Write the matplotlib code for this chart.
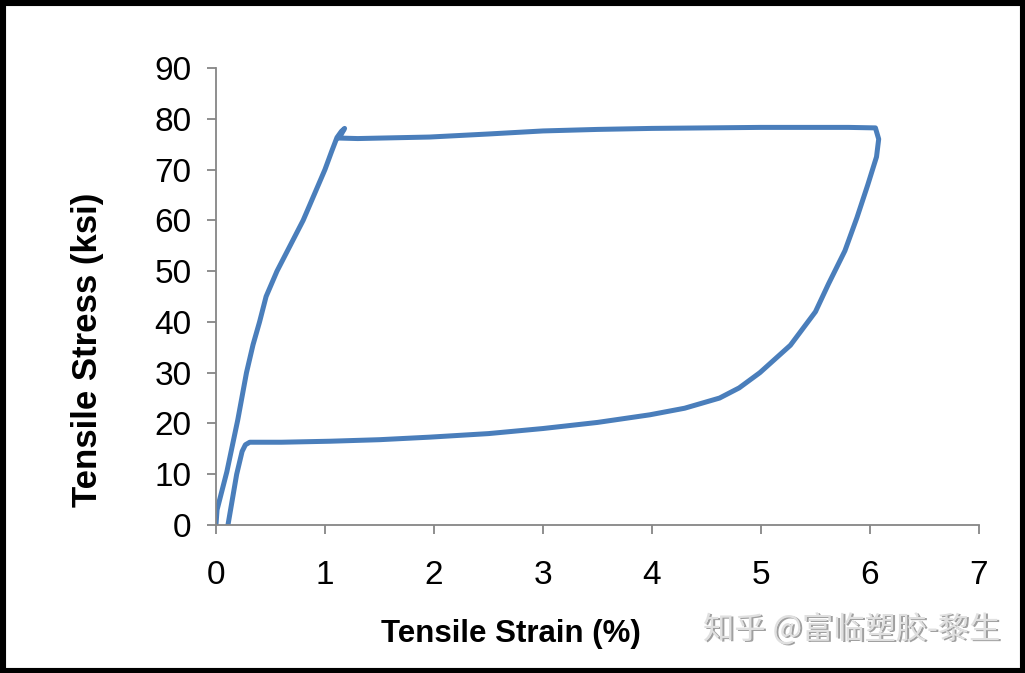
import matplotlib
matplotlib.use("Agg")
import matplotlib.pyplot as plt
from matplotlib.patches import Rectangle

# Loading branch (strain %, stress ksi)
load_strain = [0.0, 0.01, 0.10, 0.20, 0.28, 0.34, 0.40, 0.46, 0.56, 0.68, 0.80, 0.90, 1.00, 1.06, 1.11, 1.15, 1.18]
load_stress = [0.0, 3.0, 10.5, 20.7, 30.0, 35.5, 40.0, 45.0, 50.0, 55.0, 60.0, 65.0, 70.0, 73.5, 76.3, 77.5, 78.1]

# Plateau (upper)
upper_strain = [1.18, 1.13, 1.3, 1.96, 2.5, 3.0, 3.5, 4.0, 5.0, 5.8, 6.05]
upper_stress = [78.1, 76.2, 76.1, 76.4, 77.0, 77.6, 77.9, 78.1, 78.3, 78.3, 78.2]

# Unloading branch
unload_strain = [6.05, 6.08, 6.06, 5.98, 5.88, 5.77, 5.62, 5.50, 5.27, 4.99, 4.80, 4.62, 4.30, 3.98, 3.5, 3.0, 2.5, 1.96, 1.5, 1.05, 0.6, 0.31, 0.27, 0.24, 0.19, 0.15, 0.11]
unload_stress = [78.2, 76.0, 72.5, 67.0, 60.5, 54.0, 47.5, 42.0, 35.4, 30.0, 27.0, 25.0, 23.0, 21.7, 20.2, 19.0, 18.0, 17.3, 16.8, 16.5, 16.3, 16.3, 15.8, 14.5, 10.0, 5.0, 0.0]

strain = load_strain + upper_strain[1:] + unload_strain[1:]
stress = load_stress + upper_stress[1:] + unload_stress[1:]

xticks = [0, 1, 2, 3, 4, 5, 6, 7]
yticks = [0, 10, 20, 30, 40, 50, 60, 70, 80, 90]

plt.rcParams['font.family'] = ['Liberation Sans', 'DejaVu Sans']

fig = plt.figure(figsize=(10.25, 6.73), dpi=100)
ax = fig.add_axes([0.2107, 0.2199, 0.9551 - 0.2107, 0.899 - 0.2199])

ax.plot(strain, stress, color='#4a7ebb', lw=3.6, solid_capstyle='round', solid_joinstyle='round')

ax.set_xlim(0, 7)
ax.set_ylim(0, 90)
ax.set_xticks(xticks)
ax.set_yticks(yticks)
ax.set_xticklabels([str(v) for v in xticks])
ax.set_yticklabels([str(v) for v in yticks])

for s in ['top', 'right']:
    ax.spines[s].set_visible(False)
for s in ['left', 'bottom']:
    ax.spines[s].set_color('#868686')
    ax.spines[s].set_linewidth(1.3)
ax.tick_params(axis='both', direction='out', length=6.5, width=1.3, color='#868686',
               labelsize=24)
ax.tick_params(axis='x', pad=19)
ax.tick_params(axis='y', pad=11)

fig.text(511/1025, 1 - 634/673, 'Tensile Strain (%)', fontsize=22.5, fontweight='bold',
         ha='center', va='center')
fig.text(88/1025, 1 - 350/673, 'Tensile Stress (ksi)', fontsize=25, fontweight='bold',
         ha='center', va='center', rotation=90)

# watermark
wm = '知乎 @富临塑胶-黎生'
fig.text(852/1025 + 0.0015, 1 - 630/673 - 0.002, wm, fontsize=22.5,
         color='#a0a0a0', ha='center', va='center',
         family=['Noto Sans CJK SC', 'DejaVu Sans'])
fig.text(852/1025, 1 - 630/673, wm, fontsize=22.5,
         color='#e0e0e0', ha='center', va='center',
         family=['Noto Sans CJK SC', 'DejaVu Sans'])

# black frame around figure
fig.patches.append(Rectangle((0, 0), 1, 1, transform=fig.transFigure, fill=False,
                             edgecolor='black', linewidth=8))

fig.savefig('out.png', dpi=100)
